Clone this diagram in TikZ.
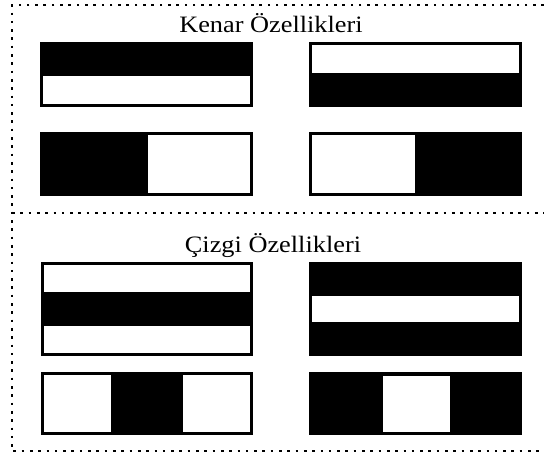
\documentclass[tikz,border=0pt]{standalone}
\usepackage{fontspec}
\setmainfont{Liberation Serif}
\begin{document}
\begin{tikzpicture}[x=1pt,y=-1pt,
  dotline/.style={line width=2.6pt,dash pattern=on 2.6pt off 5.7pt},
  title/.style={inner sep=0pt,anchor=base,font=\fontsize{23.5}{27}\selectfont},
  blk/.style={fill=black},
  wht/.style={fill=white}]
\useasboundingbox (0,0) rectangle (544,461);
% dotted frame
\draw[dotline] (544,5) -- (12,5) -- (12,451) -- (544,451);
\draw[dotline] (12,213) -- (544,213);
% titles
\node[title] (t1) at (271,32) {\scalebox{1.12}[1]{Kenar Özellikleri}};
\node[title] (t2) at (273,252) {\scalebox{1.12}[1]{Çizgi Özellikleri}};
% edge features
\fill[blk] (40,42) rectangle (253,107);
\fill[wht] (43,76) rectangle (250,104);
\fill[blk] (40,132) rectangle (253,196);
\fill[wht] (148,135) rectangle (250,193);
\fill[blk] (309,42) rectangle (522,107);
\fill[wht] (312,45) rectangle (519,73);
\fill[blk] (309,132) rectangle (522,196);
\fill[wht] (312,135) rectangle (415,193);
% line features
\fill[blk] (41,262) rectangle (253,356);
\fill[wht] (44,265) rectangle (250,292);
\fill[wht] (44,326) rectangle (250,353);
\fill[blk] (41,372) rectangle (253,435);
\fill[wht] (44,375) rectangle (111,432);
\fill[wht] (183,375) rectangle (250,432);
\fill[blk] (309,262) rectangle (522,356);
\fill[wht] (312,296) rectangle (519,322);
\fill[blk] (309,372) rectangle (522,435);
\fill[wht] (383,376) rectangle (450,432);
\end{tikzpicture}
\end{document}
